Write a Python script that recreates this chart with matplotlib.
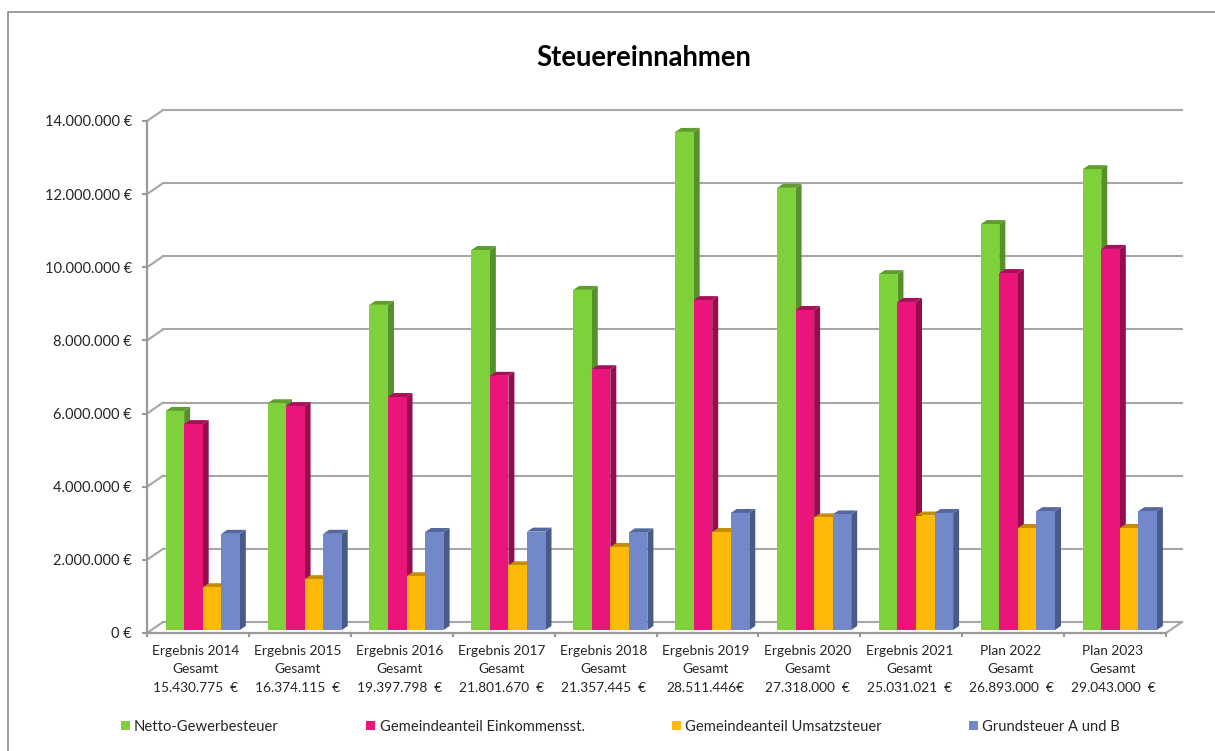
import matplotlib
matplotlib.use("Agg")
import matplotlib.pyplot as plt
from matplotlib.patches import Polygon, Rectangle
from matplotlib.transforms import ScaledTranslation

W, H = 1215, 751
plt.rcParams['font.family'] = ['Lato', 'DejaVu Sans']

title = "Steuereinnahmen"
categories = ["Ergebnis 2014", "Ergebnis 2015", "Ergebnis 2016", "Ergebnis 2017", "Ergebnis 2018",
              "Ergebnis 2019", "Ergebnis 2020", "Ergebnis 2021", "Plan 2022", "Plan 2023"]
totals = ["15.430.775  €", "16.374.115  €", "19.397.798  €", "21.801.670  €", "21.357.445  €",
          "28.511.446€", "27.318.000  €", "25.031.021  €", "26.893.000  €", "29.043.000  €"]
series_names = ["Netto-Gewerbesteuer", "Gemeindeanteil Einkommensst.",
                "Gemeindeanteil Umsatzsteuer", "Grundsteuer A und B"]
gewerbe = [5.99e6, 6.20e6, 8.89e6, 10.39e6, 9.30e6, 13.62e6, 12.09e6, 9.73e6, 11.10e6, 12.60e6]
einkommen = [5.63e6, 6.12e6, 6.37e6, 6.95e6, 7.13e6, 9.02e6, 8.75e6, 8.97e6, 9.76e6, 10.42e6]
umsatz = [1.17e6, 1.39e6, 1.47e6, 1.77e6, 2.27e6, 2.68e6, 3.08e6, 3.13e6, 2.79e6, 2.79e6]
grund = [2.63e6, 2.63e6, 2.68e6, 2.69e6, 2.67e6, 3.20e6, 3.16e6, 3.20e6, 3.25e6, 3.25e6]
series = [gewerbe, einkommen, umsatz, grund]
front = ["#7FD13B", "#EA157A", "#FEB80A", "#7388C8"]
top = ["#5F9E2C", "#A80F58", "#C48D08", "#5468A0"]
side = ["#55902A", "#960D4E", "#B07F07", "#4A5A88"]
yticks = list(range(0, 14000001, 2000000))
ylabels = ["0 €"] + [f"{v:,}".replace(",", ".") + " €" for v in yticks[1:]]

fig = plt.figure(figsize=(W / 100, H / 100), dpi=100, facecolor="white")
x0, x1, y0, y1 = 147, 1166, 633, 121
ax = fig.add_axes([x0 / W, 1 - y0 / H, (x1 - x0) / W, (y0 - y1) / H])
ax.set_xlim(0, 10)
ax.set_ylim(0, 14e6)
ax.patch.set_alpha(0)
for s in ["top", "right"]:
    ax.spines[s].set_visible(False)
for s in ["left", "bottom"]:
    ax.spines[s].set_color("#9A9A9A")
    ax.spines[s].set_linewidth(1.6)

px = 10 / (x1 - x0)          # one pixel in x data units
py = 14e6 / (y0 - y1)        # one pixel in y data units
floor_dx, floor_dy = 16 * px, 11 * py

# Back wall gridlines and side-wall connectors
for v in yticks:
    ax.plot([floor_dx, 10 + floor_dx], [v + floor_dy] * 2, color="#A6A6A6", lw=1.5, clip_on=False, zorder=1)
    ax.plot([0, floor_dx], [v, v + floor_dy], color="#A6A6A6", lw=1.5, clip_on=False, zorder=1)
ax.plot([10, 10 + floor_dx], [0, floor_dy], color="#A6A6A6", lw=1.5, clip_on=False, zorder=1)

# Bars
bar_w = 18.55 * px
offset = 18.6 * px
base = 3 * py
dx, dy = 6 * px, 4 * py
for i in range(len(categories)):
    for j, vals in enumerate(series):
        l = i + offset + j * bar_w
        r = l + bar_w
        t = vals[i] + base
        ax.add_patch(Polygon([(r, base), (r + dx, base + dy), (r + dx, t + dy), (r, t)], closed=True,
                             fc=side[j], ec="none", zorder=3 + j * 0.1, clip_on=False))
        ax.add_patch(Polygon([(l, t), (l + dx, t + dy), (r + dx, t + dy), (r, t)], closed=True,
                             fc=top[j], ec="none", zorder=3 + j * 0.1, clip_on=False))
        ax.add_patch(Rectangle((l, base), bar_w, vals[i], fc=front[j], ec="none",
                               zorder=3 + j * 0.1 + 0.01, clip_on=False))

# Axes ticks and labels
ax.set_yticks(yticks)
ax.set_yticklabels(ylabels, fontsize=10.55, color="#262626")
down = ScaledTranslation(0, -1 / 100, fig.dpi_scale_trans)
for lab in ax.get_yticklabels():
    lab.set_transform(lab.get_transform() + down)
ax.set_xticks(range(11))
ax.set_xticklabels([""] * 11)
ax.tick_params(axis="y", length=3.6, width=1.5, color="#9A9A9A", pad=7.2)
ax.tick_params(axis="x", length=3, width=1.5, color="#9A9A9A")
for i, (c, t) in enumerate(zip(categories, totals)):
    ax.annotate(f"{c}\nGesamt\n{t}", (i + 0.5 - 0.02, 0), xytext=(0, -12), textcoords="offset pixels",
                ha="center", va="top", fontsize=9.95, color="#262626", linespacing=1.64, annotation_clip=False)

fig.text(644 / W, 1 - 58 / H, title, ha="center", va="center", fontsize=19.8, fontweight="bold", color="black")

# Legend
leg_sq = [121, 366, 672, 969]
leg_tx = [134, 380, 685, 982]
for name, color, sx, tx in zip(series_names, front, leg_sq, leg_tx):
    fig.patches.append(Rectangle((sx / W, 1 - 730 / H), 9 / W, 9 / H, transform=fig.transFigure,
                                 fc=color, ec="none"))
    fig.text(tx / W, 1 - 727 / H, name, ha="left", va="center", fontsize=10.65, color="#262626")

# Chart frame
fig.patches.append(Rectangle((8 / W, -0.01), 1.1, 1 - 11.5 / H + 0.01, transform=fig.transFigure,
                             fc="none", ec="#8C8C8C", lw=1.2, clip_on=True))

fig.savefig("out.png", dpi=100, facecolor="white")
